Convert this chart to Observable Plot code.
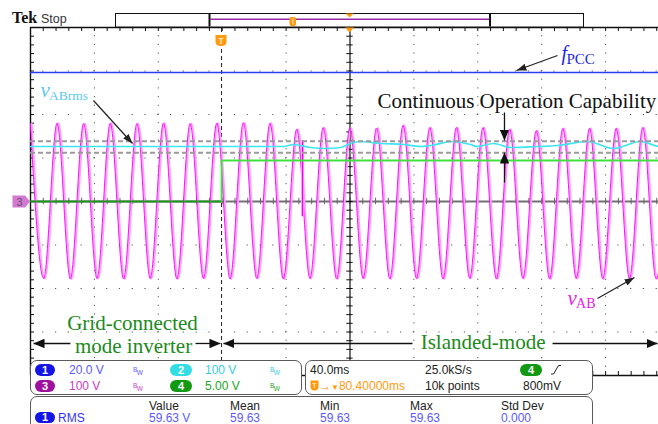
<!DOCTYPE html>
<html><head><meta charset="utf-8">
<script src="https://cdn.jsdelivr.net/npm/d3@7"></script>
<script src="https://cdn.jsdelivr.net/npm/@observablehq/plot@0.6"></script>
<style>
html,body{margin:0;padding:0;background:#fff;}
#wrap{position:relative;width:658px;height:424px;overflow:hidden;font-family:"Liberation Sans",Arial,sans-serif;}
#wrap svg.main{position:absolute;left:0;top:0;}
.ov{position:absolute;left:0;top:0;}
.panel{position:absolute;border:1.3px solid #5a5a5a;border-radius:7px;background:#fff;box-sizing:border-box;}
.t{position:absolute;font-size:12px;line-height:12px;white-space:nowrap;color:#222;}
.t.last{line-height:10px;}
.badge{position:absolute;height:12px;border-radius:6px;color:#fff;font-size:11px;line-height:12px;text-align:center;font-weight:bold;}
.bw{position:absolute;font-size:6.5px;line-height:7px;}
.bw span{position:relative;top:2.5px;left:-0.5px;}
</style></head><body><div id="wrap"></div>
<script>
// ---- data (time in ms relative to trigger, amplitude in screen divisions) ----
const vabT = [-119.3,-111.0,-102.6,-94.3,-86.0,-77.6,-69.3,-61.0,-52.6,-44.3,-36.0,-27.6,-19.3,-11.0,-2.6,5.7,14.0,22.4,30.7,39.0,47.4,55.7,64.0,72.4,80.7,89.0,97.4,105.7,114.0,122.4,130.7,139.0,147.4,155.7,164.0,172.4,180.7,189.0,197.4,205.7,214.0,222.4,230.7,239.0,247.4,255.7,264.0,272.4,280.7];
const vabV = [1.78,-1.77,1.80,-1.78,1.79,-1.77,1.80,-1.78,1.79,-1.77,1.80,-1.78,1.79,-1.77,1.80,-1.78,1.81,-1.77,1.80,-1.78,1.66,-1.77,1.70,-1.78,1.69,-1.77,1.69,-1.78,1.75,-1.77,1.70,-1.78,1.70,-1.77,1.70,-1.78,1.66,-1.77,1.63,-1.78,1.68,-1.77,1.68,-1.78,1.68,-1.77,1.70,-1.78,1.70];
const rmsT = [-119.6,38.8,45.0,55.7,65.1,74.5,80.7,87.0,99.5,113.9,124.5,130.8,144.6,155.8,160.2,170.2,180.9,197.8,210.3,229.1,245.3,262.2,273.5,280.4];
const rmsV = [1.264,1.264,1.310,1.241,1.218,1.241,1.333,1.379,1.333,1.310,1.264,1.287,1.379,1.310,1.264,1.333,1.241,1.264,1.287,1.379,1.218,1.379,1.264,1.241];
const fpccT = [-119.6, 280.4];
const fpccV = [2.966, 2.966];
const ch4T = [-119.6, 0, 0, 280.4];
const ch4V = [0, 0, 0.943, 0.943];
const cursorV = [1.386, 1.119];
const glitchT = [50.7];
const glitchTop = [1.40];
const glitchBot = [-0.35];

// ---- screen frame ----
const X0 = -119.6, X1 = 280.4;   // 10 divisions x 40 ms
const msPx = (X1 - X0) / 639, divPx = 8 / 348;

const vab = vabT.map((t, i) => ({t, v: vabV[i]}));
const rms = rmsT.map((t, i) => ({t, v: rmsV[i]}));
const fpcc = fpccT.map((t, i) => ({t, v: fpccV[i]}));
const ch4 = ch4T.map((t, i) => ({t, v: ch4V[i]}));
const glitch = glitchT.map((t, i) => ({t, a: glitchTop[i], b: glitchBot[i]}));

const gridX = [1,2,4,6,7,8,9].map(i => X0 + 40 * i);
const gridY = [-3,-2,-1,1,2,3];
const minorX = d3.range(0, 51).map(i => X0 + 8 * i);
const minorY = d3.range(0, 41).map(i => -4 + 0.2 * i);
const tk = 4 * divPx, tkx = 4 * msPx;

const serif = "Liberation Serif, Times New Roman, serif";
const labels = [
  {t: 212.8, v: 3.264, s: "f", size: 20, italic: true, fill: "#1f1fe6"},
  {t: 215.9, v: 3.172, s: "PCC", size: 15, italic: false, fill: "#1f1fe6"},
  {t: -113.3, v: 2.391, s: "v", size: 21, italic: true, fill: "#5cc8ee"},
  {t: -108.0, v: 2.333, s: "ABrms", size: 13.5, italic: false, fill: "#5cc8ee"},
  {t: 216.6, v: -2.368, s: "v", size: 21, italic: true, fill: "#e619e6"},
  {t: 221.9, v: -2.437, s: "AB", size: 14, italic: false, fill: "#e619e6"},
  {t: 97.6, v: 2.138, s: "Continuous Operation Capability", size: 21, italic: false, fill: "#111"}
];
const modeLabels = [
  {t: -55.75, v: -2.943, s: "Grid-connected"},
  {t: -55.1, v: -3.494, s: "mode inverter"},
  {t: 163.7, v: -3.402, s: "Islanded-mode"}
];
const arrowsSmall = [
  {x1: 210.3, y1: 3.356, x2: 184.6, y2: 3.011},
  {x1: -80.2, y1: 2.322, x2: -55.7, y2: 1.333},
  {x1: 235.3, y1: -2.230, x2: 258.5, y2: -1.747}
];
const arrowsBig = [
  {x1: 177.1, y1: 2.046, x2: 177.1, y2: 1.402},
  {x1: 177.1, y1: 0.437, x2: 177.1, y2: 1.126},
  {x1: -94.6, y1: -3.264, x2: -117.7, y2: -3.264},
  {x1: -16.3, y1: -3.264, x2: -0.7, y2: -3.264},
  {x1: 119.5, y1: -3.264, x2: 1.2, y2: -3.264},
  {x1: 207.2, y1: -3.264, x2: 272.9, y2: -3.264}
];

const chart = Plot.plot({
  width: 658, height: 424,
  marginLeft: 30, marginTop: 27, marginRight: 0, marginBottom: 49,
  x: {domain: [X0, X1], range: [30, 669], axis: null},
  y: {domain: [-4, 4], range: [375, 27], axis: null},
  marks: [
    // graticule
    Plot.ruleX(gridX, {x: d => d, y1: -4, y2: 4, stroke: "#555", strokeWidth: 1, strokeDasharray: "1.2,7.5", strokeDashoffset: 0.6}),
    Plot.ruleY(gridY, {y: d => d, x1: X0, x2: X1, stroke: "#555", strokeWidth: 1, strokeDasharray: "1.2,11.58", strokeDashoffset: 0.6}),
    Plot.ruleY([0], {y: d => d, x1: X0, x2: X1, stroke: "#707070", strokeWidth: 2}),
    Plot.ruleX(minorX, {x: d => d, y1: -tk * 0.8, y2: tk * 0.8, stroke: "#666"}),
    Plot.ruleX([80.4], {x: d => d, y1: -4, y2: 4, stroke: "#111", strokeWidth: 1.2}),
    Plot.ruleY(minorY, {y: d => d, x1: 80.4 - tkx * 0.8, x2: 80.4 + tkx * 0.8, stroke: "#111"}),
    Plot.ruleX([X0], {x: d => d, y1: -4, y2: 4, stroke: "#111", strokeWidth: 1.4}),
    Plot.ruleY([4, -4], {y: d => d, x1: X0, x2: X1, stroke: "#111", strokeWidth: 1.4}),
    Plot.ruleX(minorX, {x: d => d, y1: 4, y2: 4 - tk, stroke: "#111"}),
    Plot.ruleX(minorX, {x: d => d, y1: -4, y2: -4 + tk, stroke: "#111"}),
    Plot.ruleY(minorY, {y: d => d, x1: X0, x2: X0 + tkx, stroke: "#111"}),
    Plot.ruleX([0], {x: d => d, y1: -4, y2: 4, stroke: "#222", strokeWidth: 1, strokeDasharray: "4,3"}),
    // vAB (persistence look)
    Plot.line(vab, {x: "t", y: "v", curve: "monotone-x", stroke: "#ff9cff", strokeWidth: 2.2, dx: 0.6}),
    Plot.line(vab, {x: "t", y: "v", curve: "monotone-x", stroke: "#f000f0", strokeWidth: 0.9, dx: -0.6}),
    Plot.ruleX(glitch, {x: "t", y1: "a", y2: "b", stroke: "#ff9cff", strokeWidth: 3}),
    Plot.ruleX(glitch, {x: "t", y1: "a", y2: "b", stroke: "#f000f0", strokeWidth: 1.1}),
    // vABrms
    Plot.line(rms, {x: "t", y: "v", curve: "monotone-x", stroke: "#3ce6f2", strokeWidth: 1.7}),
    // channel 4
    Plot.line(ch4.slice(0, 2), {x: "t", y: "v", stroke: "#1e961e", strokeWidth: 2}),
    Plot.line(ch4.slice(1), {x: "t", y: "v", stroke: "#3fe03f", strokeWidth: 1.8}),
    // fPCC
    Plot.line(fpcc, {x: "t", y: "v", stroke: "#2b3df5", strokeWidth: 1.6}),
    // cursors
    Plot.ruleY(cursorV, {y: d => d, x1: X0, x2: X1, stroke: "#9a9a9a", strokeWidth: 2, strokeDasharray: "5,3"}),
    // annotations
    Plot.link(arrowsSmall, {x1: "x1", y1: "y1", x2: "x2", y2: "y2", stroke: "#222", strokeWidth: 1.2, ariaLabel: () => "arrow-small", ariaDescription: "arrows-small"}),
    Plot.link(arrowsBig, {x1: "x1", y1: "y1", x2: "x2", y2: "y2", stroke: "#111", strokeWidth: 1.3, ariaLabel: () => "arrow-big", ariaDescription: "arrows-big"}),
    ...labels.map(l => Plot.text([l], {x: "t", y: "v", text: "s", textAnchor: "start", lineAnchor: "bottom",
      fontFamily: serif, fontSize: l.size, fontStyle: l.italic ? "italic" : "normal", fill: l.fill})),
    Plot.text(modeLabels, {x: "t", y: "v", text: "s", textAnchor: "middle", lineAnchor: "bottom",
      fontFamily: serif, fontSize: 21, fill: "#1b8a1b"})
  ]
});
chart.classList.add("main");
// filled arrow heads
const ns = "http://www.w3.org/2000/svg";
const defs = document.createElementNS(ns, "defs");
function marker(id, w, h, fill) {
  const m = document.createElementNS(ns, "marker");
  m.setAttribute("id", id);
  m.setAttribute("viewBox", "0 0 10 10");
  m.setAttribute("refX", "10"); m.setAttribute("refY", "5");
  m.setAttribute("markerWidth", w); m.setAttribute("markerHeight", h);
  m.setAttribute("markerUnits", "userSpaceOnUse");
  m.setAttribute("orient", "auto");
  m.setAttribute("preserveAspectRatio", "none");
  const p = document.createElementNS(ns, "path");
  p.setAttribute("d", "M0,0L10,5L0,10z");
  p.setAttribute("fill", fill);
  m.appendChild(p);
  defs.appendChild(m);
}
marker("ahS", 10, 7, "#222");
marker("ahB", 11, 9.5, "#111");
chart.insertBefore(defs, chart.firstChild);
function applyMarker(key, id) {
  chart.querySelectorAll(`[aria-label="${key}"], [aria-description="${key}s"]`).forEach(el => {
    const paths = el.tagName.toLowerCase() === "path" ? [el] : el.querySelectorAll("path");
    paths.forEach(p => p.setAttribute("marker-end", `url(#${id})`));
  });
}
applyMarker("arrow-small", "ahS");
applyMarker("arrow-big", "ahB");

const wrap = document.getElementById("wrap");
wrap.appendChild(chart);

// scope chrome overlay
const ov = document.createElement("div");
ov.innerHTML = `
<svg class="ov" width="658" height="424" xmlns="${ns}">
  <text x="12" y="22.5" font-family="Liberation Serif, serif" font-weight="bold" font-size="16" fill="#111">Tek</text>
  <text x="41" y="22.5" font-family="Liberation Sans, sans-serif" font-size="12.5" fill="#333">Stop</text>
  <rect x="115.5" y="13.5" width="468" height="13.5" fill="#fff" stroke="#111" stroke-width="1"/>
  <line x1="209.5" y1="14" x2="209.5" y2="26.5" stroke="#111" stroke-width="2"/>
  <line x1="490" y1="14" x2="490" y2="26.5" stroke="#111" stroke-width="2"/>
  <line x1="210" y1="19.3" x2="489" y2="19.3" stroke="#9b2ba6" stroke-width="1.5"/>
  <rect x="289.5" y="17" width="6.5" height="9" rx="2" fill="#ff9a10"/>
  <line x1="292.8" y1="18.5" x2="292.8" y2="24.5" stroke="#ffd9a0" stroke-width="1.2"/>
  <polygon points="345.5,13.5 353.5,13.5 349.5,17.5" fill="#ff9a10"/>
  <polygon points="345,27.5 354,27.5 349.5,32.5" fill="#ff9a10"/>
  <path d="M215.5,35 h11 v7 q0,4 -5.5,4 q-5.5,0 -5.5,-4 z" fill="#ff9a10"/>
  <text x="221" y="43.5" text-anchor="middle" font-family="Liberation Sans, sans-serif" font-weight="bold" font-size="9" fill="#ffe2b8">T</text>
  <polygon points="12.5,195.5 25,195.5 30,201.5 25,207.5 12.5,207.5" fill="#d27ad2"/>
  <text x="16.5" y="206" font-family="Liberation Sans, sans-serif" font-size="11" fill="#6a4a6a">3</text>
</svg>
<div class="panel" style="left:30px;top:360px;width:272px;height:35px;"></div>
<div class="panel" style="left:305px;top:360px;width:288px;height:35px;"></div>
<div class="panel" style="left:30px;top:396px;width:563px;height:40px;"></div>

<div class="badge" style="left:35px;top:364px;width:20px;background:#1414e6;">1</div>
<div class="t" style="left:69px;top:364px;color:#5a5aff;">20.0 V</div>
<div class="bw" style="left:133px;top:366px;color:#5a5aff;">B<span>W</span></div>
<div class="badge" style="left:170px;top:364px;width:22px;background:#33dde3;">2</div>
<div class="t" style="left:205px;top:364px;color:#35cde0;">100 V</div>
<div class="bw" style="left:270px;top:366px;color:#35cde0;">B<span>W</span></div>

<div class="badge" style="left:35px;top:380px;width:20px;background:#a010a0;">3</div>
<div class="t" style="left:69px;top:380px;color:#c23ec2;">100 V</div>
<div class="bw" style="left:133px;top:382px;color:#c23ec2;">B<span>W</span></div>
<div class="badge" style="left:170px;top:380px;width:22px;background:#129912;">4</div>
<div class="t" style="left:205px;top:380px;color:#22a522;">5.00 V</div>
<div class="bw" style="left:270px;top:382px;color:#22a522;">B<span>W</span></div>

<div class="t" style="left:310px;top:364px;">40.0ms</div>
<div class="t" style="left:425px;top:364px;">25.0kS/s</div>
<div class="badge" style="left:520px;top:364px;width:22px;background:#129912;">4</div>
<svg class="ov" style="left:550px;top:364px;" width="12" height="12"><path d="M1,10 L3.5,10 L8.5,1.5 L11,1.5" fill="none" stroke="#222" stroke-width="1"/></svg>
<svg class="ov" style="left:310px;top:380px;" width="10" height="11"><path d="M0.5,0.5 h8 v6 q0,4 -4,4 q-4,0 -4,-4 z" fill="#ff9a10"/><text x="4.5" y="8" text-anchor="middle" font-family="Liberation Sans, sans-serif" font-weight="bold" font-size="7" fill="#ffe2b8">T</text></svg>
<div class="t" style="left:319px;top:380px;color:#ff9a10;">→<span style="font-size:8px;">▼</span>80.40000ms</div>
<div class="t" style="left:425px;top:380px;">10k points</div>
<div class="t" style="left:523px;top:380px;">800mV</div>

<div class="t" style="left:149px;top:399.5px;">Value</div>
<div class="t" style="left:230px;top:399.5px;">Mean</div>
<div class="t" style="left:320px;top:399.5px;">Min</div>
<div class="t" style="left:410px;top:399.5px;">Max</div>
<div class="t" style="left:501px;top:399.5px;">Std Dev</div>
<div class="badge" style="left:35px;top:412px;width:20px;height:11px;line-height:11px;background:#1414e6;">1</div>
<div class="t last" style="left:58px;top:413px;color:#3333ff;">RMS</div>
<div class="t last" style="left:149px;top:413px;color:#5a5aff;">59.63 V</div>
<div class="t last" style="left:230px;top:413px;color:#5a5aff;">59.63</div>
<div class="t last" style="left:320px;top:413px;color:#5a5aff;">59.63</div>
<div class="t last" style="left:410px;top:413px;color:#5a5aff;">59.63</div>
<div class="t last" style="left:501px;top:413px;color:#5a5aff;">0.000</div>
`;
while (ov.firstChild) wrap.appendChild(ov.firstChild);
</script></body></html>
